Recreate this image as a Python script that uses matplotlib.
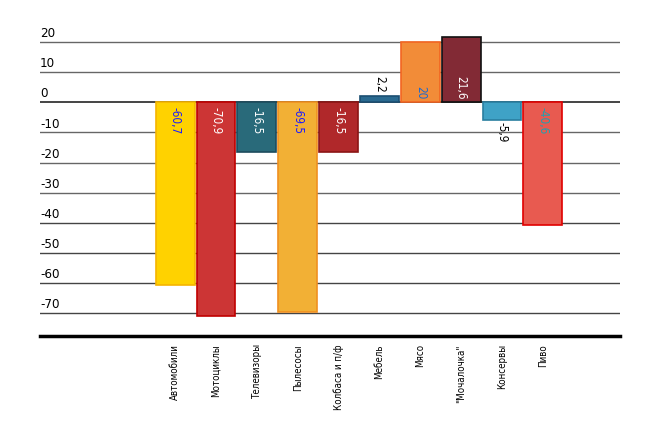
import matplotlib
matplotlib.use('Agg')
import matplotlib.pyplot as plt

plt.rcParams['font.family'] = ['DejaVu Sans']
plt.rcParams['font.stretch'] = 'condensed'

# data
categories = ['Автомобили', 'Мотоциклы', 'Телевизоры', 'Пылесосы', 'Колбаса и п/ф',
              'Мебель', 'Мясо', '"Мочалочка"', 'Консервы', 'Пиво']
values = [-60.7, -70.9, -16.5, -69.5, -16.5, 2.2, 20, 21.6, -5.9, -40.6]
labels = ['-60,7', '-70,9', '-16,5', '-69,5', '-16,5', '2,2', '20', '21,6', '-5,9', '-40,6']
yticks = [20, 10, 0, -10, -20, -30, -40, -50, -60, -70]

face = ['#FFD200', '#CC3535', '#296A7A', '#F2B035', '#B0282A',
        '#2A6A90', '#F28C38', '#822A35', '#3FA2C6', '#E85A50']
edge = ['#F5B400', '#C00000', '#1C4C5E', '#F09020', '#8B1515',
        '#1B4F72', '#F26522', '#111111', '#2A7FA0', '#E00000']
lblcol = ['#1a1aff', 'white', 'white', '#1a1aff', 'white',
          'black', '#1a6ad0', 'white', 'black', '#20a0b0']
# where the value label sits: 'in' = inside near zero, 'out' = outside the bar end
lblpos = ['in', 'in', 'in', 'in', 'in', 'out', 'in', 'in', 'out', 'in']

fig = plt.figure(figsize=(6.61, 4.33), dpi=100)
ax = fig.add_axes([40/661, (433-336)/433, 580/661, (336-33)/433])
ax.set_xlim(-3.31, 10.89)
ax.set_ylim(-77.6, 23)

for y in yticks:
    # grid gets a bit darker further down, as in the original
    g = '#666666' if y > -40 else '#444444'
    ax.axhline(y, color=g if y != 0 else '#444444', lw=1.0 if y != 0 else 1.4, zorder=1)
    ax.text(0, y + 0.6, str(y), transform=ax.get_yaxis_transform(), ha='left', va='bottom',
            fontsize=9.5, color='black')
ax.axhline(-77.6, color='black', lw=2.5, zorder=3, clip_on=False)

x = list(range(len(categories)))
ax.bar(x, values, width=0.95, color=face, edgecolor=edge, linewidth=1.2, zorder=2)

for i, v in enumerate(values):
    if lblpos[i] == 'in':
        if v < 0:
            ax.text(i, -1.5, labels[i], rotation=270, ha='center', va='top', fontsize=8.5, color=lblcol[i], zorder=4)
        else:
            ax.text(i, 0.8, labels[i], rotation=270, ha='center', va='bottom', fontsize=8.5, color=lblcol[i], zorder=4)
    else:
        if v < 0:
            ax.text(i, v - 0.8, labels[i], rotation=270, ha='center', va='top', fontsize=8.5, color=lblcol[i], zorder=4)
        else:
            ax.text(i, v + 1.0, labels[i], rotation=270, ha='center', va='bottom', fontsize=8.5, color=lblcol[i], zorder=4)

ax.set_xticks(x)
ax.set_xticklabels(categories, rotation=90, fontsize=7, va='top', ha='center')
ax.tick_params(axis='x', length=0, pad=6)
ax.set_yticks([])
for s in ax.spines.values():
    s.set_visible(False)

fig.savefig('out.png', dpi=100)
